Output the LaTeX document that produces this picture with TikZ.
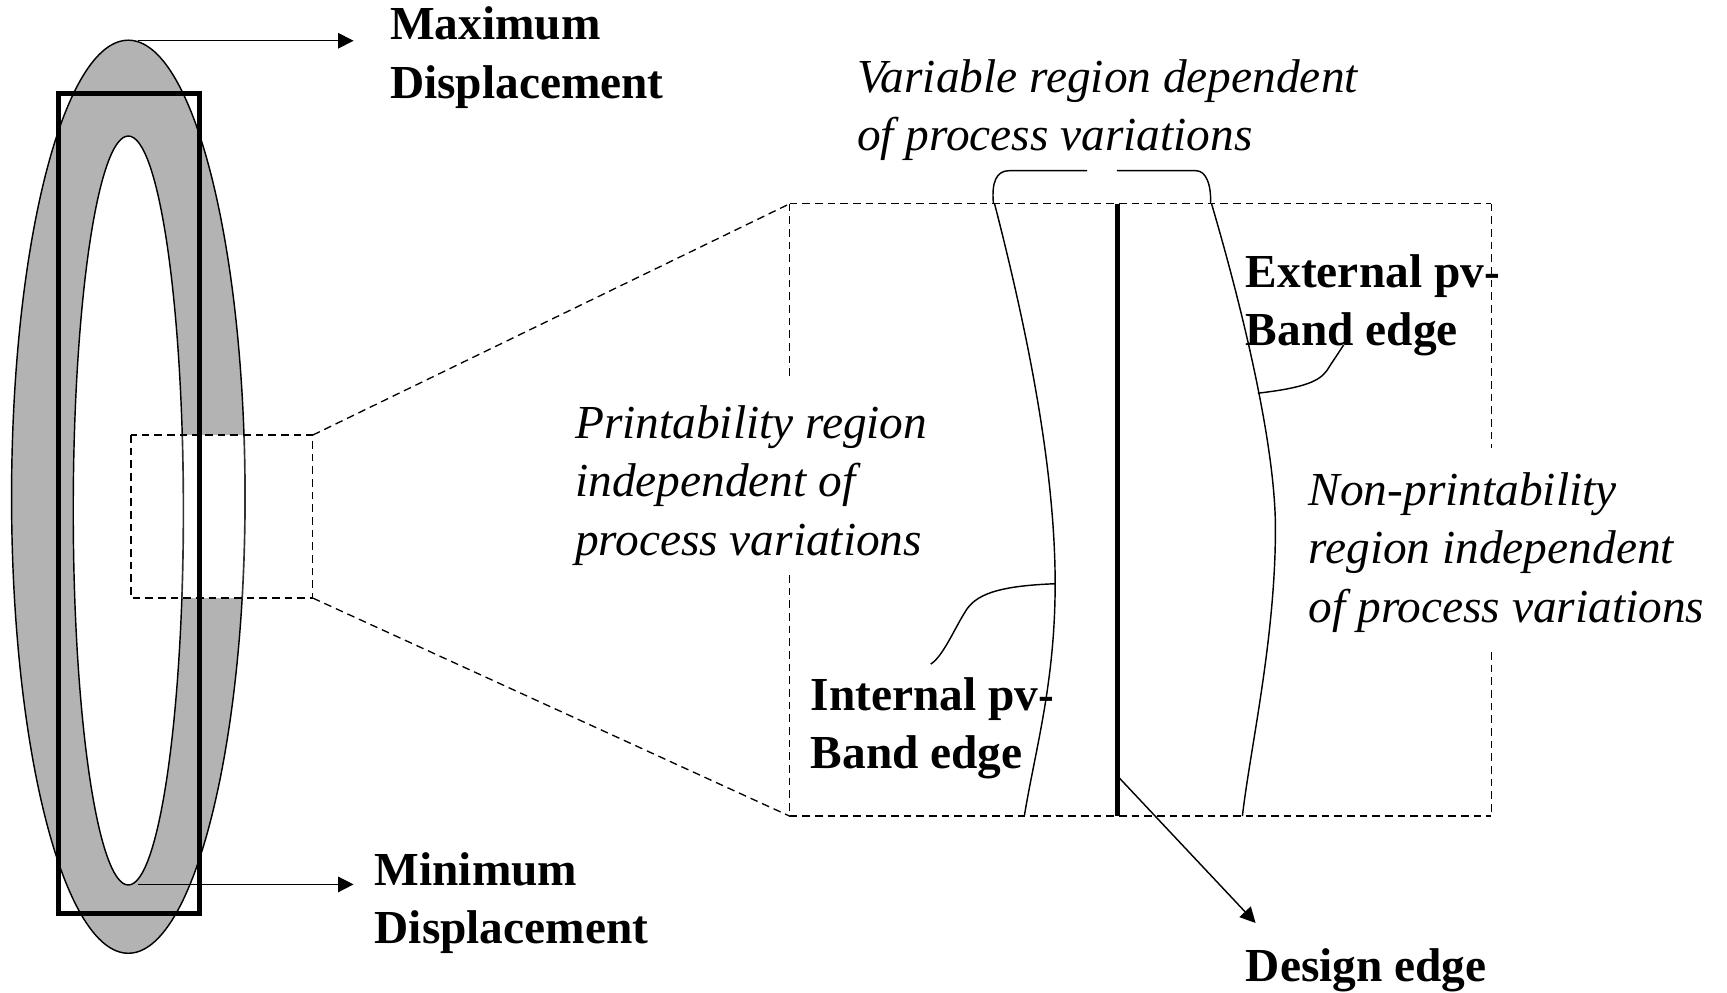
\documentclass[tikz,border=0pt]{standalone}
\usepackage{fontspec}
\setmainfont{Liberation Serif}
\usetikzlibrary{arrows.meta}
\definecolor{bandgray}{RGB}{179,179,179}
\newcommand{\lines}[1]{\begin{tabular}[t]{@{}l@{}}#1\end{tabular}}
\begin{document}
\begin{tikzpicture}[x=1pt,y=-1pt,
  thinline/.style={line width=1.3pt},
  thickline/.style={line width=4.5pt},
  dashline/.style={line width=1.2pt, dash pattern=on 7pt off 4.5pt},
  boldlbl/.style={anchor=base west, inner sep=0pt, font=\fontsize{43}{53}\selectfont\bfseries},
  itlbl/.style={anchor=base west, inner sep=0pt, font=\fontsize{43}{53}\selectfont\itshape},
  arr/.style={line width=1.3pt, -{Triangle[length=14pt,width=14pt]}},
]
\useasboundingbox (0,0) rectangle (1568,901);

% --- left ring ---
\filldraw[thinline, fill=bandgray] (116.5,451) ellipse [x radius=106, y radius=414.5];
\filldraw[thinline, fill=white] (116.5,463.5) ellipse [x radius=50, y radius=340];
\draw[thickline] (52.7,85.3) rectangle (181,829);

% --- small zoom box ---
\coordinate (sbTL) at (119,395);
\coordinate (sbTR) at (284,395);
\coordinate (sbBR) at (284,543);
\fill[white] (sbTL) rectangle (sbBR);
\begin{scope}
  \clip (sbTL) rectangle (sbBR);
  \draw[line width=1.5pt, black!80] (116.5,451) ellipse [x radius=106, y radius=414.5];
  \draw[line width=1.5pt, black!80] (116.5,463.5) ellipse [x radius=50, y radius=340];
  \draw[thickline] (52.7,85.3) rectangle (181,829);
\end{scope}
\draw[dashline] (sbTL) rectangle (sbBR);

% --- big box ---
\coordinate (bbTL) at (717,185);
\coordinate (bbTR) at (1354,185);
\coordinate (bbBL) at (717,741);
\coordinate (bbBR) at (1354,741);
\draw[dashline] (sbTR) -- (bbTL);
\draw[dashline] (sbBR) -- (bbBL);
\draw[dashline] (bbTL) -- (bbTR);
\draw[dashline] (bbBL) -- (bbBR);
\draw[dashline] (bbTL) -- (717,343);
\draw[dashline] (717,522) -- (bbBL);
\draw[dashline] (bbTR) -- (1354,407);
\draw[dashline] (1354,592) -- (bbBR);

% --- pv-band edges ---
\draw[thinline] (903,185) .. controls (930,290) and (958,420) .. (958,530)
  .. controls (958,620) and (940,680) .. (930,741);
\draw[thinline] (1100,185) .. controls (1125,270) and (1158,400) .. (1158,480)
  .. controls (1158,580) and (1135,680) .. (1128,741);
% brace on top
\draw[thinline] (902,185) .. controls (900,165) and (905,155) .. (916,155) -- (987,155);
\draw[thinline] (1014,155) -- (1086,155) .. controls (1095,155) and (1100,168) .. (1099,185);
% design edge
\coordinate (deTop) at (1015,185);
\coordinate (deBot) at (1015,741);
\draw[thickline] (deTop) -- (deBot);

% --- labels ---
\node[boldlbl] (maxlbl) at (354,36) {\lines{Maximum\\Displacement}};
\node[boldlbl] (minlbl) at (340,804) {\lines{Minimum\\Displacement}};
\node[itlbl] (varlbl) at (778,84) {\lines{Variable region dependent\\of process variations}};
\node[boldlbl] (extlbl) at (1131,261) {\lines{External pv-\\Band edge}};
\node[itlbl] (prlbl) at (522,398) {\lines{Printability region\\independent of\\process variations}};
\node[itlbl] (nprlbl) at (1188,459) {\lines{Non-printability\\region independent\\of process variations}};
\node[boldlbl] (intlbl) at (736,645) {\lines{Internal pv-\\Band edge}};
\node[boldlbl] (delbl) at (1131,891) {Design edge};

% --- arrows and leaders ---
\coordinate (maxS) at (125,37);
\coordinate (maxE) at (321,37);
\draw[arr] (maxS) -- (maxE);
\coordinate (minS) at (125,803);
\coordinate (minE) at (321,803);
\draw[arr] (minS) -- (minE);
\coordinate (deS) at (1015,705);
\coordinate (deE) at (1140,838);
\draw[arr] (deS) -- (deE);
\coordinate (intS) at (958,530);
\coordinate (intE) at (845,603);
\draw[thinline] (intS) .. controls (905,532) and (885,540) .. (876,556)
  .. controls (866,572) and (856,596) .. (intE);
\coordinate (extS) at (1142,357);
\coordinate (extE) at (1220,313);
\draw[thinline] (extS) .. controls (1185,352) and (1198,346) .. (1205,336)
  .. controls (1210,328) and (1215,321) .. (extE);
\end{tikzpicture}
\end{document}
